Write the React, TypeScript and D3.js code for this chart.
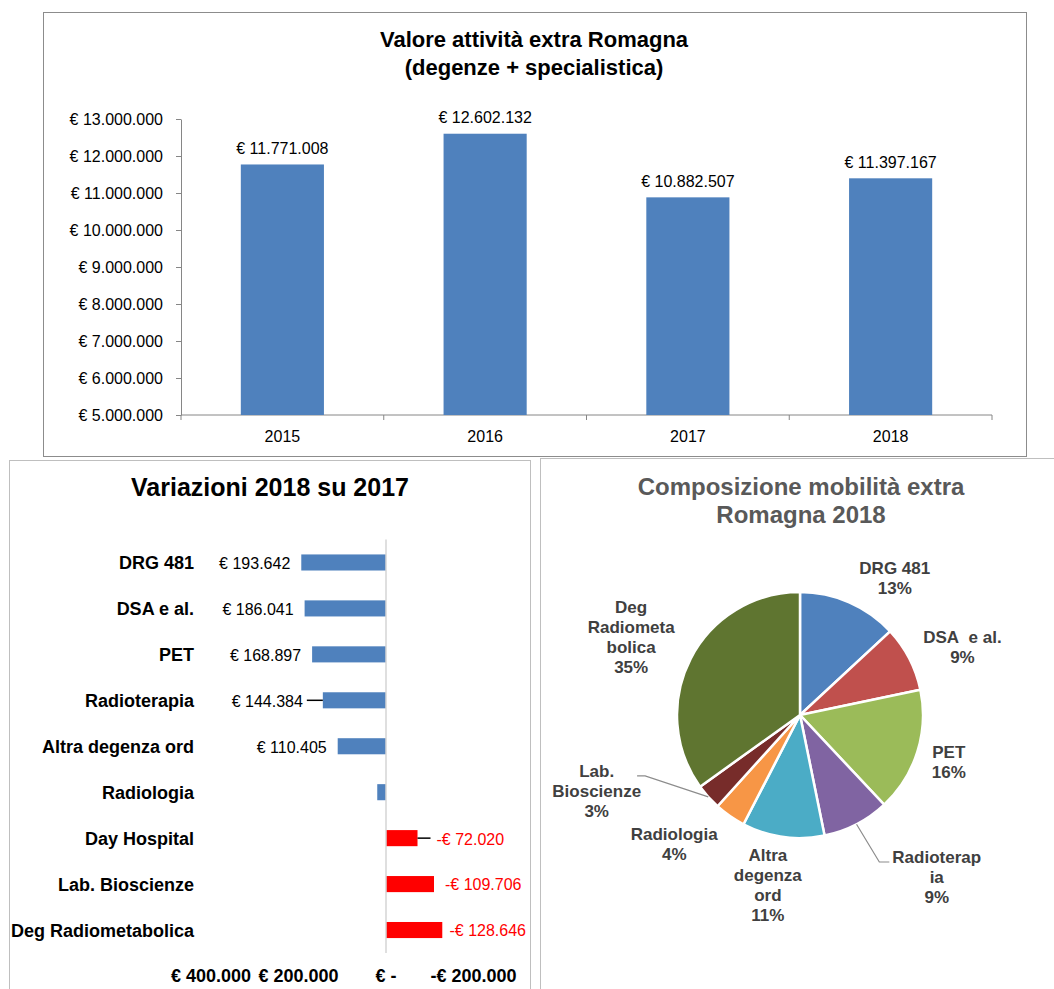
import { useEffect, useRef } from "react";
import * as d3 from "d3";

const WIDTH = 1054;
const HEIGHT = 989;
const FONT = '"Liberation Sans", Arial, Helvetica, sans-serif';

// top chart: value of extra-Romagna activity per year
const YEARS = ["2015", "2016", "2017", "2018"];
const YEAR_VALUES = [11771008, 12602132, 10882507, 11397167];
const YEAR_TICKS = [5000000, 6000000, 7000000, 8000000, 9000000, 10000000, 11000000, 12000000, 13000000];

// bottom left: variations 2018 vs 2017
const VAR_CATEGORIES = [
  "DRG 481",
  "DSA e al.",
  "PET",
  "Radioterapia",
  "Altra degenza ord",
  "Radiologia",
  "Day Hospital",
  "Lab. Bioscienze",
  "Deg Radiometabolica",
];
const VAR_VALUES = [193642, 186041, 168897, 144384, 110405, 20000, -72020, -109706, -128646];
const VAR_TICKS = [400000, 200000, 0, -200000];

// bottom right: composition 2018
const PIE_NAMES = [
  ["DRG 481"],
  ["DSA\u00a0 e al."],
  ["PET"],
  ["Radioterap", "ia"],
  ["Altra", "degenza", "ord"],
  ["Radiologia"],
  ["Lab.", "Bioscienze"],
  ["Deg", "Radiometa", "bolica"],
];
const PIE_SHARES = [13.1, 8.6, 16.3, 8.8, 10.8, 4.1, 3.4, 34.9];
const PIE_COLORS = ["#4F81BD", "#C0504D", "#9BBB59", "#8064A2", "#4BACC6", "#F79646", "#772C2A", "#5F7530"];

const euro = d3
  .formatLocale({ decimal: ",", thousands: ".", grouping: [3], currency: ["€ ", ""], minus: "-" })
  .format("$,");

export default function App() {
  const svgRef = useRef<SVGSVGElement>(null);

  useEffect(() => {
    const svgElement = svgRef.current;
    if (!svgElement) return;
    const svg = d3.select(svgElement);
    svg.selectAll("*").remove();
    svg.attr("font-family", FONT);

    svg.append("rect").attr("width", WIDTH).attr("height", HEIGHT).attr("fill", "#fff");

    // ---------- top panel ----------
    const top = svg.append("g");
    top
      .append("rect")
      .attr("x", 43.5)
      .attr("y", 12.5)
      .attr("width", 983)
      .attr("height", 444)
      .attr("fill", "#fff")
      .attr("stroke", "#8c8c8c");

    top
      .selectAll("text.title")
      .data(["Valore attività extra Romagna", "(degenze + specialistica)"])
      .join("text")
      .attr("class", "title")
      .attr("x", 534)
      .attr("y", (_, i) => 47 + i * 28)
      .attr("text-anchor", "middle")
      .attr("font-size", 22)
      .attr("font-weight", "bold")
      .text((d) => d);

    const y = d3.scaleLinear().domain([5000000, 13000000]).range([415, 119]);
    const x = d3.scaleBand().domain(YEARS).range([181, 992]).paddingInner(0.59).paddingOuter(0.295);

    const yAxis = top
      .append("g")
      .attr("transform", "translate(181,0)")
      .call(d3.axisLeft(y).tickValues(YEAR_TICKS).tickSize(5).tickSizeOuter(0).tickPadding(13).tickFormat((d) => euro(+d)));
    yAxis.attr("font-family", FONT).attr("font-size", 16);
    yAxis.selectAll("path,line").attr("stroke", "#868686");
    yAxis.selectAll("text").attr("fill", "#000");

    const step = x.step();
    const bounds = YEARS.map((d) => (x(d) ?? 0) - (step * x.paddingInner()) / 2);
    bounds.push(bounds[bounds.length - 1] + step);
    top
      .append("line")
      .attr("x1", 181)
      .attr("x2", bounds[bounds.length - 1])
      .attr("y1", y(5000000))
      .attr("y2", y(5000000))
      .attr("stroke", "#868686");
    top
      .selectAll("line.xtick")
      .data(bounds)
      .join("line")
      .attr("class", "xtick")
      .attr("x1", (d) => d)
      .attr("x2", (d) => d)
      .attr("y1", y(5000000))
      .attr("y2", y(5000000) + 5)
      .attr("stroke", "#868686");

    top
      .selectAll("rect.bar")
      .data(YEAR_VALUES)
      .join("rect")
      .attr("class", "bar")
      .attr("x", (_, i) => x(YEARS[i]) ?? 0)
      .attr("y", (d) => y(d))
      .attr("width", x.bandwidth())
      .attr("height", (d) => y(5000000) - y(d))
      .attr("fill", "#4F81BD");

    top
      .selectAll("text.value")
      .data(YEAR_VALUES)
      .join("text")
      .attr("class", "value")
      .attr("x", (_, i) => (x(YEARS[i]) ?? 0) + x.bandwidth() / 2)
      .attr("y", (d) => y(d) - 10.5)
      .attr("text-anchor", "middle")
      .attr("font-size", 16)
      .text((d) => euro(d));

    top
      .selectAll("text.year")
      .data(YEARS)
      .join("text")
      .attr("class", "year")
      .attr("x", (d) => (x(d) ?? 0) + x.bandwidth() / 2)
      .attr("y", 442)
      .attr("text-anchor", "middle")
      .attr("font-size", 16)
      .text((d) => d);

    // ---------- bottom left panel ----------
    const left = svg.append("g");
    left
      .append("rect")
      .attr("x", 9.5)
      .attr("y", 460.5)
      .attr("width", 521)
      .attr("height", 560)
      .attr("fill", "#fff")
      .attr("stroke", "#bfbfbf");

    left
      .append("text")
      .attr("x", 270)
      .attr("y", 496)
      .attr("text-anchor", "middle")
      .attr("font-size", 25)
      .attr("font-weight", "bold")
      .text("Variazioni 2018 su 2017");

    const xv = d3.scaleLinear().domain([400000, -200000]).range([211, 473.5]);
    const yv = d3.scaleBand().domain(VAR_CATEGORIES).range([539.5, 953]).paddingInner(0.65).paddingOuter(0.325);
    const x0 = xv(0);
    const rowMid = (name: string) => (yv(name) ?? 0) + yv.bandwidth() / 2;

    left
      .selectAll("rect.vbar")
      .data(VAR_VALUES)
      .join("rect")
      .attr("class", "vbar")
      .attr("x", (d) => Math.min(xv(d), x0))
      .attr("y", (_, i) => yv(VAR_CATEGORIES[i]) ?? 0)
      .attr("width", (d) => Math.abs(xv(d) - x0))
      .attr("height", yv.bandwidth())
      .attr("fill", (d) => (d >= 0 ? "#4F81BD" : "#FF0000"));

    left
      .append("line")
      .attr("x1", x0)
      .attr("x2", x0)
      .attr("y1", 539.5)
      .attr("y2", 953)
      .attr("stroke", "#d4d4d4")
      .attr("stroke-width", 1.5);

    left
      .selectAll("text.cat")
      .data(VAR_CATEGORIES)
      .join("text")
      .attr("class", "cat")
      .attr("x", 194)
      .attr("y", (d) => rowMid(d))
      .attr("dy", "0.36em")
      .attr("text-anchor", "end")
      .attr("font-size", 18)
      .attr("font-weight", "bold")
      .text((d) => d);

    // labels that Excel had moved out, with a short leader line
    const leaderGap: Record<string, number> = { Radioterapia: 9, "Day Hospital": 8 };
    const rightLimit = 526;
    VAR_VALUES.forEach((v, i) => {
      const name = VAR_CATEGORIES[i];
      if (name === "Radiologia") return;
      const extra = leaderGap[name] ?? 0;
      const cy = rowMid(name);
      const t = left
        .append("text")
        .attr("y", cy)
        .attr("dy", "0.4em")
        .attr("font-size", 16)
        .attr("fill", v >= 0 ? "#000" : "#FF0000")
        .text(euro(v));
      if (v >= 0) {
        const endX = xv(v) - 11 - extra;
        t.attr("x", endX).attr("text-anchor", "end");
        if (extra)
          left.append("line").attr("x1", endX + 4).attr("x2", xv(v)).attr("y1", cy).attr("y2", cy).attr("stroke", "#000").attr("stroke-width", 1.5);
      } else {
        const w = (t.node() as SVGTextElement).getComputedTextLength();
        let startX = xv(v) + 11 + extra;
        if (startX + w > rightLimit) startX = rightLimit - w;
        t.attr("x", startX);
        if (extra)
          left.append("line").attr("x1", xv(v)).attr("x2", startX - 6).attr("y1", cy).attr("y2", cy).attr("stroke", "#000").attr("stroke-width", 1.5);
      }
    });

    left
      .selectAll("text.vtick")
      .data(VAR_TICKS)
      .join("text")
      .attr("class", "vtick")
      .attr("x", (d) => xv(d))
      .attr("y", 982)
      .attr("text-anchor", "middle")
      .attr("font-size", 18)
      .attr("font-weight", "bold")
      .text((d) => (d === 0 ? "€ -" : euro(d)));

    // ---------- bottom right panel ----------
    const right = svg.append("g");
    right
      .append("rect")
      .attr("x", 540.5)
      .attr("y", 458.5)
      .attr("width", 540)
      .attr("height", 560)
      .attr("fill", "#fff")
      .attr("stroke", "#bfbfbf");

    right
      .selectAll("text.ptitle")
      .data(["Composizione mobilità extra", "Romagna 2018"])
      .join("text")
      .attr("class", "ptitle")
      .attr("x", 801)
      .attr("y", (_, i) => 495 + i * 28)
      .attr("text-anchor", "middle")
      .attr("font-size", 24)
      .attr("font-weight", "bold")
      .attr("fill", "#595959")
      .text((d) => d);

    const cx = 800;
    const cy = 715;
    const radius = 123;
    const pie = d3.pie<number>().sort(null).value((d) => d);
    const arcs = pie(PIE_SHARES);
    const arc = d3.arc<d3.PieArcDatum<number>>().innerRadius(0).outerRadius(radius);
    const pieG = right.append("g").attr("transform", `translate(${cx},${cy})`);
    pieG
      .selectAll("path")
      .data(arcs)
      .join("path")
      .attr("d", arc)
      .attr("fill", (_, i) => PIE_COLORS[i])
      .attr("stroke", "#fff")
      .attr("stroke-width", 2.5);

    // label placement: angle offset (deg) and distance from the centre
    const placement: [number, number][] = [
      [11, 167],
      [4.7, 176],
      [0, 156],
      [-12.8, 212],
      [2.8, 173],
      [9.6, 180],
      [21.3, 217],
      [-2.4, 186],
    ];
    const leaders: Record<number, number> = { 3: -1, 6: 1 };
    const lineH = 20;
    arcs.forEach((a, i) => {
      const mid = (a.startAngle + a.endAngle) / 2;
      const ang = mid + (placement[i][0] * Math.PI) / 180;
      const r = placement[i][1];
      const lx = r * Math.sin(ang);
      const ly = -r * Math.cos(ang);
      const lines = [...PIE_NAMES[i], `${Math.round(PIE_SHARES[i])}%`];
      const firstY = ly - ((lines.length - 1) * lineH) / 2;
      const t = pieG
        .append("text")
        .attr("text-anchor", "middle")
        .attr("font-size", 17)
        .attr("font-weight", "bold")
        .attr("fill", "#404040");
      lines.forEach((l, k) => {
        t.append("tspan").attr("x", lx).attr("y", firstY + k * lineH).attr("dy", "0.36em").text(l);
      });
      const side = leaders[i];
      if (side) {
        const halfW = (t.node() as SVGTextElement).getBBox().width / 2;
        const endX = side < 0 ? lx - halfW - 3 : lx + halfW - 4;
        const elbowX = endX + (side < 0 ? -10 : 8);
        const ly0 = firstY + 5;
        const sx = radius * Math.sin(mid);
        const sy = -radius * Math.cos(mid);
        pieG
          .append("path")
          .attr("d", `M${sx},${sy}L${elbowX},${ly0}L${endX},${ly0}`)
          .attr("fill", "none")
          .attr("stroke", "#8c8c8c")
          .attr("stroke-width", 1.2);
      }
    });
  }, []);

  return (
    <svg
      ref={svgRef}
      width={WIDTH}
      height={HEIGHT}
      style={{ position: "absolute", left: 0, top: 0, display: "block" }}
      role="img"
      aria-label="Valore attività extra Romagna"
    />
  );
}
